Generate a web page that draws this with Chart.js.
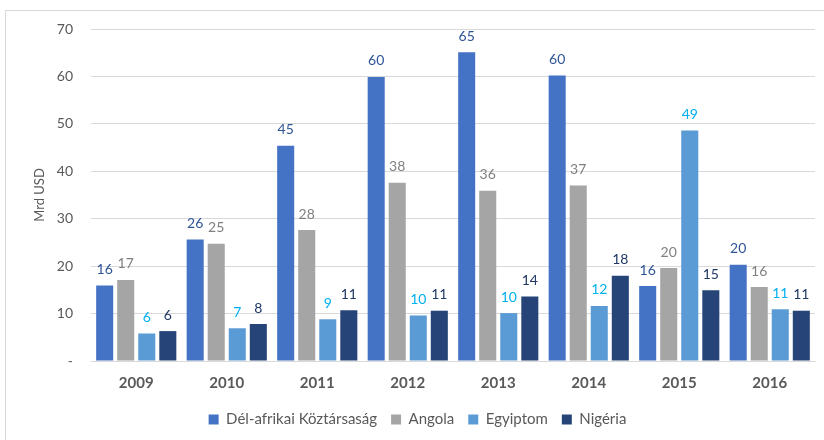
<!DOCTYPE html>
<html>
<head>
<meta charset="utf-8">
<title>Mrd USD</title>
<script src="https://cdn.jsdelivr.net/npm/chart.js@4.4.0/dist/chart.umd.min.js"></script>
<style>
  body { margin: 0; background: #fff; }
</style>
</head>
<body>
<canvas id="myChart" width="824" height="440"></canvas>
<script>
// years on the x axis
const years = ['2009', '2010', '2011', '2012', '2013', '2014', '2015', '2016'];
// Mrd USD
const delAfrika = [15.9, 25.6, 45.4, 59.9, 65.1, 60.2, 15.8, 20.3];
const angola    = [17.1, 24.7, 27.6, 37.6, 35.9, 37.0, 19.6, 15.6];
const egyiptom  = [5.8, 6.9, 8.8, 9.6, 10.1, 11.6, 48.6, 10.9];
const nigeria   = [6.3, 7.8, 10.7, 10.6, 13.6, 18.0, 14.9, 10.6];
const yTicks = [0, 10, 20, 30, 40, 50, 60, 70];

const labelColors = ['#2F5597', '#7F7F7F', '#00B0F0', '#1F3864'];

// value labels above the bars
const barLabels = {
	id: 'barLabels',
	afterDatasetsDraw(chart) {
		const ctx = chart.ctx;
		ctx.save();
		ctx.font = '14px Lato';
		ctx.textAlign = 'center';
		ctx.textBaseline = 'middle';
		chart.data.datasets.forEach(function (ds, i) {
			const meta = chart.getDatasetMeta(i);
			meta.data.forEach(function (bar, j) {
				ctx.fillStyle = labelColors[i];
				ctx.fillText(Math.round(ds.data[j]), bar.x, bar.y - 16);
			});
		});
		ctx.restore();
	}
};

// light frame round the chart
const frame = {
	id: 'frame',
	beforeDraw(chart) {
		const ctx = chart.ctx;
		ctx.save();
		ctx.strokeStyle = '#D9D9D9';
		ctx.lineWidth = 1;
		ctx.strokeRect(5.5, 10.5, 840, 460);
		ctx.restore();
	}
};

const ctx = document.getElementById('myChart').getContext('2d');
let myChart = new Chart(ctx, {
	type: 'bar',
	data: {
		labels: years,
		datasets: [
			{ label: 'Dél-afrikai Köztársaság', data: delAfrika, backgroundColor: '#4472C4' },
			{ label: 'Angola', data: angola, backgroundColor: '#A5A5A5' },
			{ label: 'Egyiptom', data: egyiptom, backgroundColor: '#5B9BD5' },
			{ label: 'Nigéria', data: nigeria, backgroundColor: '#264478' }
		]
	},
	options: {
		responsive: false,
		animation: false,
		datasets: {
			bar: { barPercentage: 0.81, categoryPercentage: 0.93 }
		},
		layout: {
			padding: { left: 20, right: 9, top: 29, bottom: 3 }
		},
		scales: {
			x: {
				grid: { display: false, drawTicks: false },
				border: { color: '#D9D9D9', width: 1 },
				afterFit: function (scale) { scale.height = 37; },
				ticks: {
					color: '#595959',
					padding: 13,
					font: { family: 'Lato', size: 15, weight: 'bold' }
				}
			},
			y: {
				min: 0,
				max: 70,
				afterBuildTicks: function (scale) {
					scale.ticks = yTicks.map(function (v) { return { value: v }; });
				},
				afterFit: function (scale) { scale.width = 71; },
				grid: { color: '#D9D9D9', drawTicks: false },
				border: { display: false },
				ticks: {
					color: '#595959',
					padding: 18,
					font: { family: 'Lato', size: 14 },
					callback: function (v) { return v === 0 ? '-' : v; }
				},
				title: {
					display: true,
					text: 'Mrd USD',
					color: '#595959',
					padding: { top: 12, bottom: 0 },
					font: { family: 'Lato', size: 13 }
				}
			}
		},
		plugins: {
			legend: {
				position: 'bottom',
				labels: {
					color: '#595959',
					boxWidth: 10,
					boxHeight: 10,
					padding: 14,
					font: { family: 'Lato', size: 15 }
				}
			},
			tooltip: { enabled: false }
		}
	},
	plugins: [barLabels, frame]
});
</script>
</body>
</html>
